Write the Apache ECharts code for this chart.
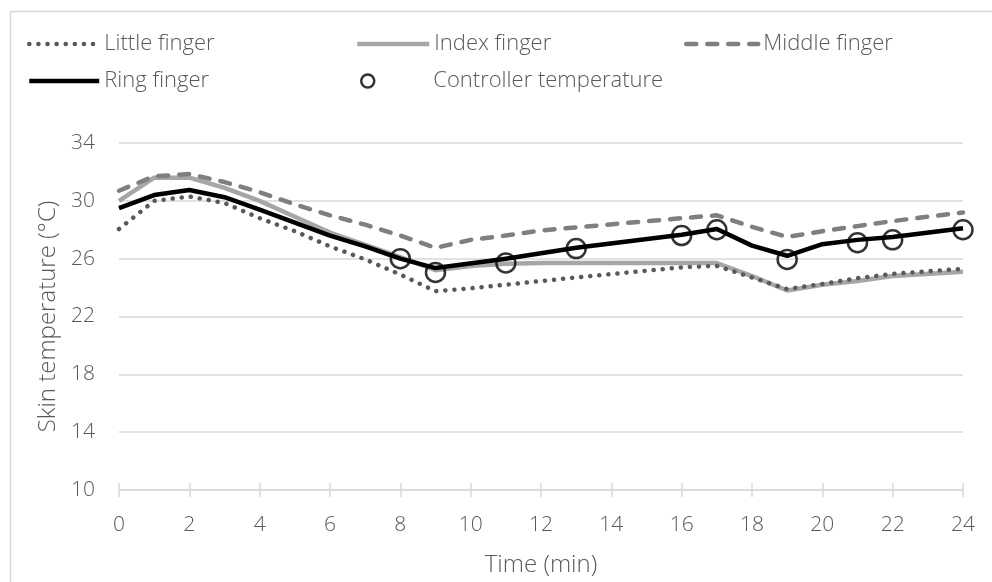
<!DOCTYPE html>
<html>
<head>
<meta charset="utf-8">
<script src="https://cdn.jsdelivr.net/npm/echarts@6/dist/echarts.min.js"></script>
<style>
  html, body { margin: 0; padding: 0; background: #fff; }
  #chart { width: 992px; height: 582px; }
</style>
</head>
<body>
<div id="chart"></div>
<script>
// Skin temperature of each finger over time (minutes, °C)
const littleMin = [0, 1, 2, 3, 4, 5, 6, 7, 8, 9, 10, 11, 12, 13, 16, 17, 18, 19, 20, 21, 22, 24];
const littleTemp = [28.05, 30.0, 30.3, 29.85, 28.8, 27.9, 26.85, 25.95, 24.9, 23.75, 23.95, 24.2, 24.45, 24.7, 25.4, 25.5, 24.7, 23.9, 24.25, 24.65, 24.95, 25.3];

const indexMin = [0, 1, 2, 3, 4, 5, 6, 7, 8, 9, 10, 11, 12, 16, 17, 18, 19, 20, 21, 22, 24];
const indexTemp = [30.0, 31.6, 31.6, 30.9, 30.0, 28.9, 27.8, 26.95, 26.1, 25.2, 25.5, 25.65, 25.7, 25.7, 25.7, 24.8, 23.8, 24.2, 24.45, 24.8, 25.1];

const middleMin = [0, 1, 2, 3, 4, 5, 6, 7, 8, 9, 10, 11, 12, 16, 17, 18, 19, 20, 21, 22, 24];
const middleTemp = [30.7, 31.7, 31.85, 31.3, 30.6, 29.75, 29.0, 28.35, 27.6, 26.75, 27.3, 27.6, 27.95, 28.8, 29.0, 28.2, 27.5, 27.9, 28.25, 28.6, 29.2];

const ringMin = [0, 1, 2, 3, 4, 5, 6, 7, 8, 9, 11, 13, 16, 17, 18, 19, 20, 21, 22, 24];
const ringTemp = [29.5, 30.4, 30.75, 30.25, 29.4, 28.5, 27.6, 26.85, 26.0, 25.35, 26.0, 26.75, 27.65, 28.05, 26.9, 26.2, 27.0, 27.3, 27.5, 28.1];

// Controller set-point temperature samples
const ctrlMin = [8, 9, 11, 13, 16, 17, 19, 21, 22, 24];
const ctrlTemp = [26.0, 25.05, 25.7, 26.7, 27.6, 28.0, 25.95, 27.1, 27.3, 28.0];

// Axis ticks
const xTicks = { min: 0, max: 24, step: 2 };
const yTicks = { min: 10, max: 34, step: 4 };

const pairs = (xs, ys) => xs.map((x, i) => [x, ys[i]]);

const FONT = '"Open Sans", Lato, sans-serif';
const TEXT = '#595959';
const GRID_LINE = '#d9d9d9';

// line styles shared by the series and their legend keys
const littleStyle = { color: '#595959', width: 4.5, type: [0.1, 9], cap: 'round', join: 'round' };
const indexStyle = { color: '#a6a6a6', width: 4.5, type: 'solid', cap: 'butt', join: 'round' };
const middleStyle = { color: '#7f7f7f', width: 4.5, type: [10, 11], cap: 'round', join: 'round' };
const ringStyle = { color: '#000000', width: 4.5, type: 'solid', cap: 'butt', join: 'round' };

const legendText = { color: TEXT, fontSize: 22, fontFamily: FONT, fontWeight: 300 };
const noSymbol = { color: 'rgba(0,0,0,0)', borderWidth: 0, opacity: 0 };

function lineLegend(name, left, top, width, style) {
  return {
    data: [name], left: left, top: top,
    itemWidth: width, itemHeight: 14, itemGap: 0,
    itemStyle: noSymbol,
    lineStyle: Object.assign({}, style),
    textStyle: legendText
  };
}

const chart = echarts.init(document.getElementById('chart'), null, { renderer: 'canvas' });

chart.setOption({
  backgroundColor: '#fff',
  animation: false,
  graphic: [{
    type: 'rect',
    left: 8, top: 9,
    shape: { width: 1000, height: 600 },
    style: { fill: 'none', stroke: '#d9d9d9', lineWidth: 1.5 },
    silent: true, z: -10
  }],
  grid: { left: 119, right: 29, top: 143, bottom: 90, containLabel: false },
  legend: [
    lineLegend('Little finger', 22, 28, 70, littleStyle),
    lineLegend('Index finger', 350, 28, 72, indexStyle),
    lineLegend('Middle finger', 679, 28, 72, middleStyle),
    lineLegend('Ring finger', 22, 65, 70, ringStyle),
    {
      data: ['Controller temperature'], left: 355, top: 65,
      itemWidth: 13, itemHeight: 13, itemGap: 0,
      itemStyle: { color: '#fff', borderColor: '#000', borderWidth: 2.5 },
      textStyle: Object.assign({}, legendText, { padding: [0, 0, 0, 54] })
    }
  ],
  xAxis: [{
    type: 'value',
    min: xTicks.min, max: xTicks.max, interval: xTicks.step,
    name: 'Time (min)',
    nameLocation: 'middle',
    nameGap: 63,
    nameTextStyle: { color: TEXT, fontSize: 24, fontFamily: FONT, fontWeight: 300 },
    axisLine: { show: true, lineStyle: { color: GRID_LINE, width: 1.5 } },
    axisTick: { show: true, length: 7, lineStyle: { color: GRID_LINE, width: 1.5 } },
    axisLabel: { color: TEXT, fontSize: 21, fontFamily: FONT, fontWeight: 300, margin: 25 },
    splitLine: { show: false }
  }, {
    // inner half of the crossing tick marks
    type: 'value',
    position: 'bottom',
    min: xTicks.min, max: xTicks.max, interval: xTicks.step,
    axisLine: { show: false },
    axisTick: { show: true, inside: true, length: 7, lineStyle: { color: GRID_LINE, width: 1.5 } },
    axisLabel: { show: false },
    splitLine: { show: false }
  }],
  yAxis: {
    type: 'value',
    min: yTicks.min, max: yTicks.max, interval: yTicks.step,
    name: 'Skin temperature (°C)',
    nameLocation: 'middle',
    nameGap: 56,
    nameTextStyle: { color: TEXT, fontSize: 24, fontFamily: FONT, fontWeight: 300 },
    axisLine: { show: false },
    axisTick: { show: false },
    axisLabel: { color: TEXT, fontSize: 21, fontFamily: FONT, fontWeight: 300, margin: 24 },
    splitLine: { show: true, lineStyle: { color: GRID_LINE, width: 1.5 } }
  },
  series: [
    {
      name: 'Index finger', type: 'line', data: pairs(indexMin, indexTemp),
      symbol: 'none', z: 2,
      lineStyle: indexStyle,
      itemStyle: { color: indexStyle.color }
    },
    {
      name: 'Little finger', type: 'line', data: pairs(littleMin, littleTemp),
      symbol: 'none', z: 3,
      lineStyle: littleStyle,
      itemStyle: { color: littleStyle.color }
    },
    {
      name: 'Middle finger', type: 'line', data: pairs(middleMin, middleTemp),
      symbol: 'none', z: 3,
      lineStyle: middleStyle,
      itemStyle: { color: middleStyle.color }
    },
    {
      name: 'Ring finger', type: 'line', data: pairs(ringMin, ringTemp),
      symbol: 'none', z: 4,
      lineStyle: ringStyle,
      itemStyle: { color: ringStyle.color }
    },
    {
      name: 'Controller temperature', type: 'scatter', data: pairs(ctrlMin, ctrlTemp),
      symbol: 'circle', symbolSize: 19, z: 5,
      itemStyle: { color: 'rgba(255,255,255,0)', borderColor: '#000', borderWidth: 2.5 }
    }
  ]
});
</script>
</body>
</html>
